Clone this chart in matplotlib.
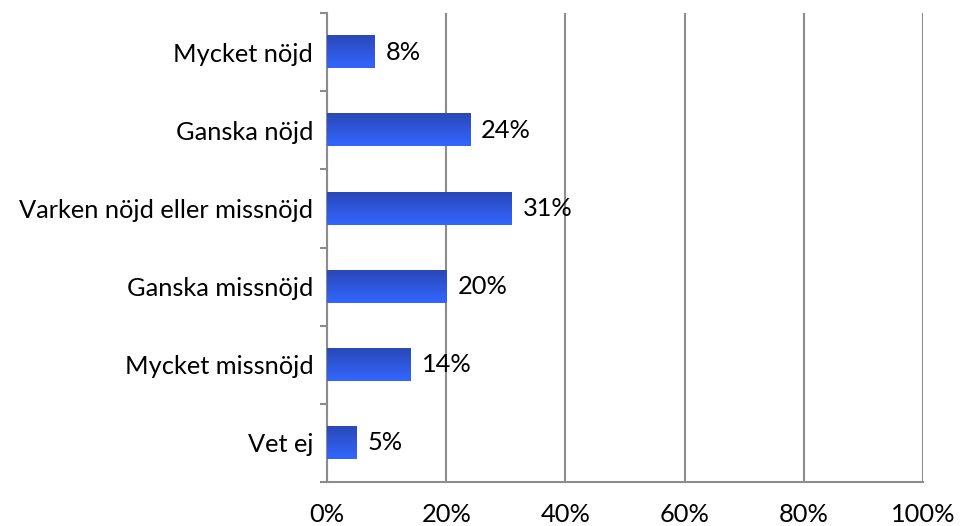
import matplotlib
matplotlib.use("Agg")
import matplotlib.pyplot as plt
import numpy as np
from matplotlib.colors import LinearSegmentedColormap

categories = ["Mycket nöjd", "Ganska nöjd", "Varken nöjd eller missnöjd",
              "Ganska missnöjd", "Mycket missnöjd", "Vet ej"]
values = [8, 24, 31, 20, 14, 5]
xticks = [0, 20, 40, 60, 80, 100]
xticklabels = ["0%", "20%", "40%", "60%", "80%", "100%"]

plt.rcParams['font.family'] = ['Lato', 'DejaVu Sans']
FS = 18.3

fig = plt.figure(figsize=(9.61, 5.26), dpi=100)
ax = fig.add_axes([0.3403, 0.0837, 0.9605 - 0.3403, 0.975 - 0.0837])

n = len(categories)
pos = np.arange(n)
bars = ax.barh(pos, values, height=0.41, color='none', edgecolor='none', zorder=3)
ax.set_ylim(n - 0.5, -0.5)
ax.set_xlim(0, 100)

cmap = LinearSegmentedColormap.from_list("g", ["#2A48B8", "#3366FF"])
grad = np.linspace(0, 1, 64).reshape(-1, 1)
for b, v in zip(bars, values):
    x0, y0 = b.get_x(), b.get_y()
    w, h = b.get_width(), b.get_height()
    ax.imshow(grad, cmap=cmap, aspect='auto', extent=(x0, x0 + w, y0 + h, y0),
              origin='upper', zorder=3, interpolation='bilinear')
    ax.annotate(f"{v}%", (x0 + w, y0 + h / 2), xytext=(8, 0),
                textcoords='offset points', va='center', ha='left', fontsize=FS)
ax.set_ylim(n - 0.5, -0.5)
ax.set_xlim(0, 100)

ax.set_xticks(xticks)
ax.set_xticklabels(xticklabels, fontsize=FS)
ax.set_yticks(pos)
ax.set_yticklabels(categories, fontsize=FS)
ax.set_yticks(np.arange(-0.5, n, 1), minor=True)
ax.tick_params(axis='y', which='major', length=0, pad=10)
ax.tick_params(axis='y', which='minor', length=5, width=1.5, color='#8C8C8C', direction='out')
ax.tick_params(axis='x', which='major', length=0, pad=15)

ax.grid(axis='x', color='#8C8C8C', linewidth=1.5, zorder=0)
for s in ['top', 'right']:
    ax.spines[s].set_visible(False)
for s in ['left', 'bottom']:
    ax.spines[s].set_color('#8C8C8C')
    ax.spines[s].set_linewidth(1.5)

fig.savefig("out.png", dpi=100)
